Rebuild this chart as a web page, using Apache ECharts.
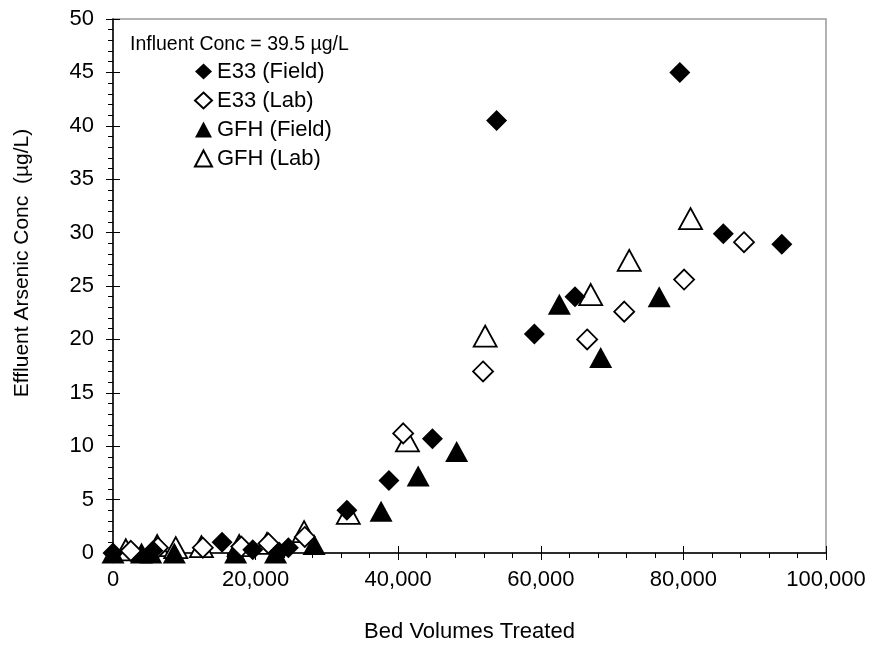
<!DOCTYPE html>
<html>
<head>
<meta charset="utf-8">
<script src="https://cdn.jsdelivr.net/npm/echarts@6/dist/echarts.min.js"></script>
<style>
  html, body { margin: 0; padding: 0; background: #fff; }
  #chart { width: 878px; height: 648px; }
</style>
</head>
<body>
<div id="chart"></div>
<script>
// bed volumes treated vs effluent arsenic (ug/L)
var e33Field = [[0,0],[5600,0.2],[15300,1.0],[19600,0.3],[23300,0.1],[24600,0.5],[32800,4.0],[38700,6.8],[44800,10.7],[53800,40.5],[59100,20.5],[64800,24.0],[79500,45.0],[85600,29.9],[93800,28.9]];
var e33Lab = [[2500,0.2],[6300,0.5],[12600,0.5],[18000,0.6],[21800,0.9],[26900,1.5],[40700,11.2],[51900,17.0],[66500,20.0],[71700,22.6],[80100,25.6],[88500,29.1]];
var gfhField = [[0,0],[4000,0],[5300,0],[8600,0],[17200,0],[22800,0],[28200,0.8],[37600,3.9],[42800,7.2],[48200,9.5],[62600,23.3],[68400,18.3],[76600,24.0]];
var gfhLab = [[1800,0.3],[6200,0.7],[8800,0.5],[12400,0.6],[17700,0.7],[21600,0.9],[26800,2.0],[33000,3.7],[41300,10.5],[52200,20.3],[67000,24.2],[72400,27.4],[81000,31.3]];
var seriesNames = ['E33 (Field)', 'E33 (Lab)', 'GFH (Field)', 'GFH (Lab)'];

var font = 'Arial, "Liberation Sans", sans-serif';
var chart = echarts.init(document.getElementById('chart'));

function fmt(v) {
    return v.toString().replace(/\B(?=(\d{3})+(?!\d))/g, ',');
}

var option = {
    animation: false,
    grid: {
        left: 113, right: 52, top: 19, bottom: 93,
        show: true, borderColor: '#999', borderWidth: 1.5
    },
    legend: {
        data: seriesNames,
        orient: 'vertical',
        left: 189, top: 54,
        itemWidth: 17, itemHeight: 16,
        itemGap: 4,
        textStyle: { fontFamily: font, fontSize: 22, color: '#000', lineHeight: 25 }
    },
    graphic: [{
        type: 'text', left: 130, top: 35,
        style: { text: 'Influent Conc = 39.5 µg/L', font: '19.5px ' + font, fill: '#000' }
    }],
    xAxis: [{
        type: 'value', min: 0, max: 100000, interval: 20000,
        name: 'Bed Volumes Treated', nameLocation: 'middle', nameGap: 68,
        nameTextStyle: { fontFamily: font, fontSize: 22, color: '#000' },
        axisLine: { onZero: false, lineStyle: { color: '#000', width: 1.5 } },
        axisTick: { show: true, length: 7, lineStyle: { color: '#000' } },
        minorTick: { show: true, splitNumber: 5, length: 5, lineStyle: { color: '#000' } },
        axisLabel: { fontFamily: font, fontSize: 22, color: '#000', margin: 16, formatter: fmt },
        splitLine: { show: false }
    }, {
        type: 'value', min: 0, max: 100000, interval: 20000, position: 'bottom',
        axisLine: { show: false },
        axisTick: { show: true, inside: true, length: 7, lineStyle: { color: '#000' } },
        axisLabel: { show: false }, splitLine: { show: false }
    }],
    yAxis: [{
        type: 'value', min: 0, max: 50, interval: 5,
        name: 'Effluent Arsenic Conc  (µg/L)', nameLocation: 'middle', nameGap: 80,
        nameTextStyle: { fontFamily: font, fontSize: 21, color: '#000', padding: [0, 0, 0, 46] },
        axisLine: { onZero: false, lineStyle: { color: '#000', width: 1.5 } },
        axisTick: { show: true, length: 7, lineStyle: { color: '#000' } },
        minorTick: { show: true, splitNumber: 5, length: 5, lineStyle: { color: '#000' } },
        axisLabel: { fontFamily: font, fontSize: 22, color: '#000', margin: 19 },
        splitLine: { show: false }
    }, {
        type: 'value', min: 0, max: 50, interval: 5, position: 'left',
        axisLine: { show: false },
        axisTick: { show: true, inside: true, length: 7, lineStyle: { color: '#000' } },
        axisLabel: { show: false }, splitLine: { show: false }
    }],
    series: [{
        name: 'GFH (Lab)', type: 'scatter', data: gfhLab,
        symbol: 'triangle', symbolSize: [23, 21],
        itemStyle: { color: '#fff', borderColor: '#000', borderWidth: 1.8, opacity: 1 }
    }, {
        name: 'GFH (Field)', type: 'scatter', data: gfhField,
        symbol: 'triangle', symbolSize: [23, 21],
        itemStyle: { color: '#000', opacity: 1 }
    }, {
        name: 'E33 (Lab)', type: 'scatter', data: e33Lab,
        symbol: 'diamond', symbolSize: 20,
        itemStyle: { color: '#fff', borderColor: '#000', borderWidth: 1.8, opacity: 1 }
    }, {
        name: 'E33 (Field)', type: 'scatter', data: e33Field,
        symbol: 'diamond', symbolSize: 21,
        itemStyle: { color: '#000', opacity: 1 }
    }]
};
chart.setOption(option);
</script>
</body>
</html>
